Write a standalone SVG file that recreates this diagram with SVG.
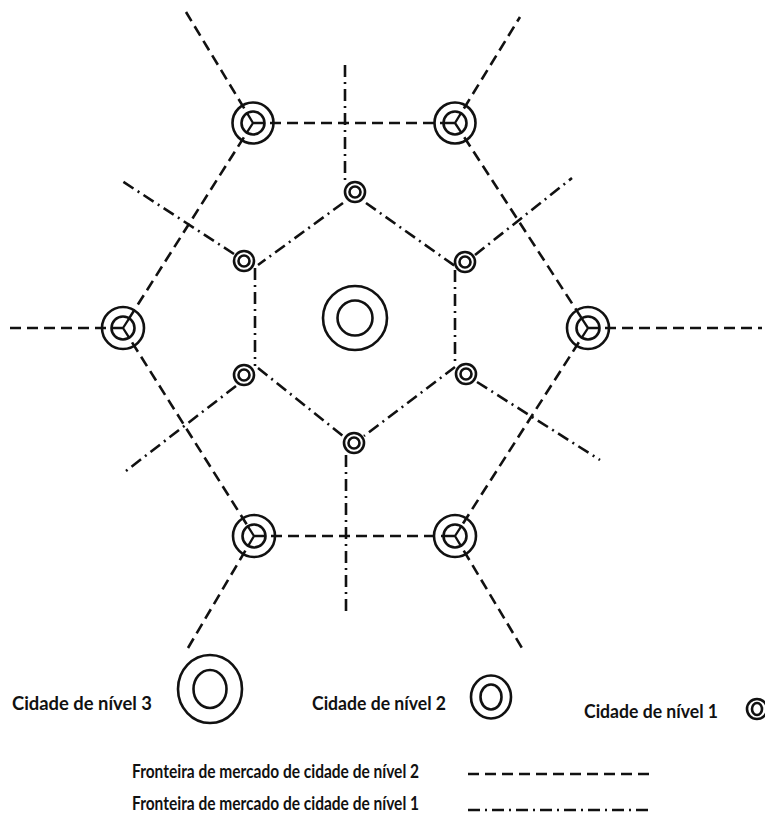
<svg xmlns="http://www.w3.org/2000/svg" width="765" height="837" viewBox="0 0 765 837">
<style>
.ring{fill:none;stroke:#111;stroke-width:2.6}
.inner{fill:#fff;stroke:#111;stroke-width:2.6}
.spoke{stroke:#111;stroke-width:2.3;fill:none}
.b2{stroke:#111;stroke-width:2.6;fill:none;stroke-dasharray:11 6}
.b1{stroke:#111;stroke-width:2.6;fill:none;stroke-dasharray:12 5 2 5}
.lbl{font-family:Lato,"Liberation Sans",sans-serif;font-weight:700;font-size:19px;fill:#111}
.lbl2{font-family:Lato,"Liberation Sans",sans-serif;font-weight:700;font-size:18.5px;fill:#111}
</style>
<rect width="765" height="837" fill="#fff"/>
<g id="connectors">
  <g id="level2-boundaries">
    <line class="b2" x1="253" y1="123" x2="455" y2="123"/>
    <line class="b2" x1="253" y1="123" x2="123" y2="328"/>
    <line class="b2" x1="455" y1="123" x2="588" y2="328"/>
    <line class="b2" x1="123" y1="328" x2="254" y2="536"/>
    <line class="b2" x1="588" y1="328" x2="455" y2="536"/>
    <line class="b2" x1="254" y1="536" x2="455" y2="536"/>
    <line class="b2" x1="253" y1="123" x2="186" y2="12"/>
    <line class="b2" x1="455" y1="123" x2="520" y2="17"/>
    <line class="b2" x1="123" y1="328" x2="8" y2="328"/>
    <line class="b2" x1="588" y1="328" x2="762" y2="328"/>
    <line class="b2" x1="254" y1="536" x2="188" y2="648"/>
    <line class="b2" x1="455" y1="536" x2="522" y2="648"/>
  </g>
  <g id="level1-boundaries">
    <line class="b1" x1="345" y1="65" x2="345" y2="182"/>
    <line class="b1" x1="346" y1="455" x2="346" y2="615"/>
    <line class="b1" x1="343" y1="203" x2="258" y2="265"/>
    <line class="b1" x1="366" y1="203" x2="455" y2="266"/>
    <line class="b1" x1="234" y1="254" x2="122" y2="181"/>
    <line class="b1" x1="475" y1="255" x2="572" y2="178"/>
    <line class="b1" x1="255" y1="268" x2="255" y2="366"/>
    <line class="b1" x1="455" y1="270" x2="455" y2="366"/>
    <line class="b1" x1="258" y1="368" x2="343" y2="436"/>
    <line class="b1" x1="455" y1="367" x2="364" y2="436"/>
    <line class="b1" x1="236" y1="386" x2="122" y2="474"/>
    <line class="b1" x1="477" y1="382" x2="600" y2="460"/>
  </g>
</g>
<g id="city3-center">
  <circle class="ring" cx="355" cy="318" r="32"/>
  <circle class="ring" cx="355" cy="318" r="17.5"/>
</g>
<g id="city2-tl">
  <circle class="ring" cx="253" cy="123" r="20.5"/>
  <circle class="inner" cx="253" cy="123" r="11.5"/>
  <path class="spoke" d="M253 123L264.5 123M253 123L246.8 132.7M253 123L247.1 113.2"/>
</g>
<g id="city2-tr">
  <circle class="ring" cx="455" cy="123" r="20.5"/>
  <circle class="inner" cx="455" cy="123" r="11.5"/>
  <path class="spoke" d="M455 123L443.5 123M455 123L461.3 132.6M455 123L461 113.2"/>
</g>
<g id="city2-l">
  <circle class="ring" cx="123" cy="328" r="21"/>
  <circle class="inner" cx="123" cy="328" r="11.5"/>
  <path class="spoke" d="M123 328L111.5 328M123 328L129.2 318.3M123 328L129.1 337.7"/>
</g>
<g id="city2-r">
  <circle class="ring" cx="588" cy="328" r="21"/>
  <circle class="inner" cx="588" cy="328" r="11.5"/>
  <path class="spoke" d="M588 328L599.5 328M588 328L581.7 318.4M588 328L581.8 337.7"/>
</g>
<g id="city2-bl">
  <circle class="ring" cx="254" cy="536" r="21"/>
  <circle class="inner" cx="254" cy="536" r="11.5"/>
  <path class="spoke" d="M254 536L265.5 536M254 536L247.9 526.3M254 536L248.2 545.9"/>
</g>
<g id="city2-br">
  <circle class="ring" cx="455" cy="536" r="21"/>
  <circle class="inner" cx="455" cy="536" r="11.5"/>
  <path class="spoke" d="M455 536L443.5 536M455 536L461.2 526.3M455 536L460.9 545.9"/>
</g>
<g id="city1-t"><circle class="ring" cx="355" cy="192" r="10"/><circle class="ring" cx="355" cy="192" r="5.5"/></g>
<g id="city1-ul"><circle class="ring" cx="244" cy="261" r="10"/><circle class="ring" cx="244" cy="261" r="5.5"/></g>
<g id="city1-ur"><circle class="ring" cx="465" cy="262" r="10"/><circle class="ring" cx="465" cy="262" r="5.5"/></g>
<g id="city1-ll"><circle class="ring" cx="244" cy="375" r="10"/><circle class="ring" cx="244" cy="375" r="5.5"/></g>
<g id="city1-lr"><circle class="ring" cx="466" cy="374" r="10"/><circle class="ring" cx="466" cy="374" r="5.5"/></g>
<g id="city1-b"><circle class="ring" cx="354" cy="443" r="10"/><circle class="ring" cx="354" cy="443" r="5.5"/></g>
<g id="legend">
  <text class="lbl" x="12" y="710" textLength="140" lengthAdjust="spacingAndGlyphs">Cidade de nível 3</text>
  <ellipse class="ring" cx="210" cy="689" rx="32" ry="34"/>
  <ellipse class="ring" cx="210" cy="689" rx="16.5" ry="19"/>
  <text class="lbl" x="312" y="710" textLength="134" lengthAdjust="spacingAndGlyphs">Cidade de nível 2</text>
  <ellipse class="ring" cx="491" cy="697" rx="20" ry="21.5"/>
  <ellipse class="ring" cx="491" cy="697" rx="10.5" ry="12.5"/>
  <text class="lbl" x="584" y="718" textLength="134" lengthAdjust="spacingAndGlyphs">Cidade de nível 1</text>
  <circle class="ring" cx="757" cy="709" r="10"/>
  <ellipse class="ring" cx="757" cy="709" rx="5" ry="6"/>
  <text class="lbl2" x="132" y="778" textLength="287" lengthAdjust="spacingAndGlyphs">Fronteira de mercado de cidade de nível 2</text>
  <line class="b2" x1="468" y1="774" x2="652" y2="774"/>
  <text class="lbl2" x="132" y="810" textLength="287" lengthAdjust="spacingAndGlyphs">Fronteira de mercado de cidade de nível 1</text>
  <line class="b1" x1="468" y1="810" x2="652" y2="810"/>
</g>
</svg>
